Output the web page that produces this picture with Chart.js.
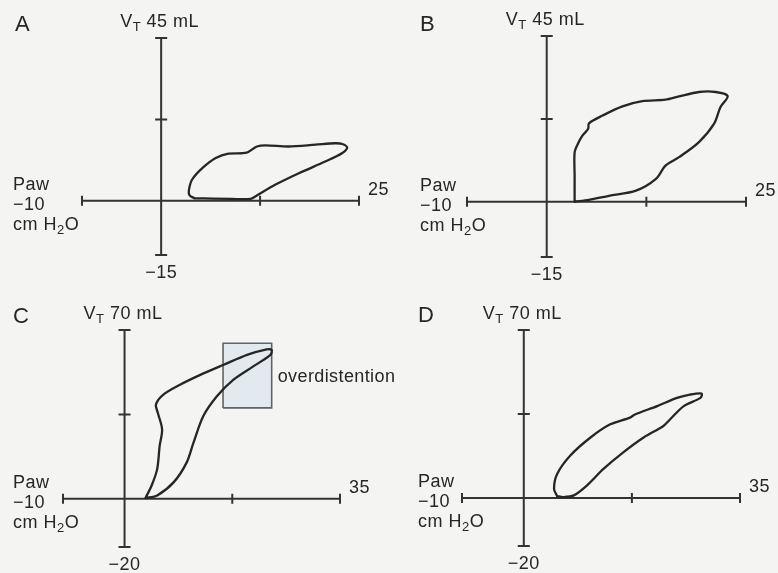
<!DOCTYPE html>
<html><head><meta charset="utf-8">
<script src="https://cdn.jsdelivr.net/npm/chart.js@4/dist/chart.umd.min.js"></script>
<style>
html,body{margin:0;padding:0;background:#f4f5f2;width:778px;height:573px;overflow:hidden}
canvas{position:absolute}
</style></head><body>
<canvas id="cA" width="389" height="290" style="left:0;top:0"></canvas>
<canvas id="cB" width="389" height="290" style="left:389px;top:0"></canvas>
<canvas id="cD" width="389" height="283" style="left:389px;top:290px"></canvas>
<canvas id="cC" width="410" height="283" style="left:0;top:290px"></canvas>
<script>
// ---- data (Paw in cm H2O, VT in mL) ----
const panelLetters = ['A', 'B', 'C', 'D'];
const xRanges = [[-10, 25], [-10, 25], [-10, 35], [-10, 35]];
const yRanges = [[-15, 45], [-15, 45], [-20, 70], [-20, 70]];
const xMinLabels = ['\u221210', '\u221210', '\u221210', '\u221210'];
const xMaxLabels = ['25', '25', '35', '35'];
const yMaxLabels = ['45 mL', '45 mL', '70 mL', '70 mL'];
const yMinLabels = ['\u221215', '\u221215', '\u221220', '\u221220'];

const pawA = [4.2, 3.6, 3.5, 3.9, 5.2, 6.9, 8.5, 10.8, 12.1, 13.2, 16.1, 19.5, 22.0, 22.9, 23.5, 22.9, 20.8, 17.4, 14.4, 11.9, 11.3, 8.9, 4.2];
const vtA  = [0.7, 1.5, 2.8, 5.8, 9.0, 11.8, 13.0, 13.3, 15.0, 15.3, 15.0, 15.5, 15.9, 15.7, 14.7, 13.2, 10.9, 7.6, 4.4, 1.2, 0.5, 0.5, 0.7];

const pawB = [3.5, 3.5, 3.5, 3.9, 4.5, 5.2, 5.3, 7.0, 9.5, 12.0, 14.9, 16.6, 19.1, 21.2, 22.7, 21.8, 21.0, 19.1, 16.6, 14.9, 13.7, 11.2, 7.8, 5.3, 3.5];
const vtB  = [0.0, 7.0, 13.4, 15.7, 18.0, 19.8, 21.3, 23.4, 25.9, 27.3, 27.7, 28.6, 29.8, 29.8, 28.7, 25.7, 21.2, 16.2, 12.1, 9.8, 6.2, 3.0, 1.6, 0.5, 0.0];

const pawC = [3.4, 4.4, 5.3, 5.7, 6.1, 5.4, 5.1, 6.3, 9.0, 12.3, 16.1, 19.9, 23.1, 23.9, 23.7, 20.9, 17.7, 15.0, 12.8, 11.2, 10.1, 8.0, 5.3, 3.4];
const vtC  = [0.3, 5.5, 12.3, 21.9, 28.8, 35.7, 39.1, 43.2, 47.3, 51.4, 55.6, 59.7, 62.0, 61.7, 59.7, 54.9, 49.4, 42.5, 34.3, 23.3, 15.1, 6.9, 1.4, 0.3];

const pawD = [5.4, 4.9, 5.4, 7.5, 10.8, 14.0, 17.2, 18.0, 21.6, 24.8, 26.9, 28.8, 28.6, 25.9, 23.7, 22.6, 19.4, 16.1, 12.9, 10.2, 8.1, 6.4, 5.4];
const vtD  = [0.8, 3.8, 10.0, 17.6, 25.2, 30.7, 33.5, 34.8, 38.3, 41.7, 43.1, 43.5, 41.7, 38.3, 32.8, 30.0, 25.2, 19.0, 12.1, 5.2, 1.1, 0.4, 0.8];

const overBoxPaw = [16.0, 23.9];
const overBoxVt = [37.7, 64.5];
const overBoxLabel = 'overdistention';

// ---- drawing ----
const FONT = '"Liberation Sans", Arial, Helvetica, sans-serif';
const INK = '#262626';

function pts(xs, ys) { return xs.map((v, i) => ({ x: v, y: ys[i] })); }

const pvAxes = {
  id: 'pvAxes',
  beforeDatasetsDraw(chart, args, o) {
    const { ctx, scales: { x, y } } = chart;
    const x0 = x.getPixelForValue(0), y0 = y.getPixelForValue(0);
    const xl = x.getPixelForValue(x.min), xr = x.getPixelForValue(x.max), xm = x.getPixelForValue(x.max / 2);
    const yt = y.getPixelForValue(y.max), yb = y.getPixelForValue(y.min), ym = y.getPixelForValue(y.max / 2);
    ctx.save();
    ctx.strokeStyle = '#333';
    ctx.lineWidth = 2;
    ctx.beginPath();
    ctx.moveTo(xl, y0); ctx.lineTo(xr, y0);
    ctx.moveTo(x0, yb); ctx.lineTo(x0, yt);
    [xl, xm, xr].forEach(px => { ctx.moveTo(px, y0 - 5); ctx.lineTo(px, y0 + 5); });
    [yt, ym, yb].forEach(py => { ctx.moveTo(x0 - 6, py); ctx.lineTo(x0 + 6, py); });
    ctx.stroke();
    ctx.restore();
  },
  afterDraw(chart, args, o) {
    const { ctx, scales: { x, y } } = chart;
    const x0 = x.getPixelForValue(0), y0 = y.getPixelForValue(0);
    const xr = x.getPixelForValue(x.max);
    const yt = y.getPixelForValue(y.max), yb = y.getPixelForValue(y.min);
    ctx.save();
    ctx.fillStyle = INK;
    ctx.textBaseline = 'alphabetic';
    ctx.letterSpacing = '0.5px';
    // panel letter
    ctx.font = '22px ' + FONT;
    ctx.textAlign = 'left';
    ctx.fillText(o.letter, o.letterX, o.letterY);
    // y label  V_T 45 mL
    ctx.font = '18px ' + FONT;
    let lx = x0 - 41, ly = yt - 11;
    ctx.fillText('V', lx, ly);
    lx += ctx.measureText('V').width;
    ctx.font = '13px ' + FONT;
    ctx.fillText('T', lx, ly + 4);
    lx += ctx.measureText('T').width;
    ctx.font = '18px ' + FONT;
    ctx.fillText(' ' + o.yMax, lx, ly);
    // x-axis block
    const bx = o.blockX;
    ctx.fillText('Paw', bx, y0 - 11);
    ctx.fillText(o.xMin, bx, y0 + 9);
    let cx = bx;
    ctx.fillText('cm H', cx, y0 + 29);
    cx += ctx.measureText('cm H').width;
    ctx.font = '13px ' + FONT;
    ctx.fillText('2', cx, y0 + 33);
    cx += ctx.measureText('2').width;
    ctx.font = '18px ' + FONT;
    ctx.fillText('O', cx, y0 + 29);
    // x max
    ctx.fillText(o.xMax, xr + 9, y0 - 6);
    // y min
    ctx.textAlign = 'center';
    ctx.fillText(o.yMin, x0, yb + 23);
    // annotation
    if (o.note) {
      ctx.textAlign = 'left';
      ctx.font = '18px ' + FONT;
      ctx.letterSpacing = '0.4px';
      const nx = x.getPixelForValue(overBoxPaw[1]) + 6;
      const ny = (y.getPixelForValue(overBoxVt[0]) + y.getPixelForValue(overBoxVt[1])) / 2 + 6;
      ctx.fillText(o.note, nx, ny);
    }
    ctx.restore();
  }
};

const panels = [
  { id: 'cA', paw: pawA, vt: vtA, pad: { left: 82, right: 30, top: 38, bottom: 35 }, letterX: 15, letterY: 31, blockX: 13 },
  { id: 'cB', paw: pawB, vt: vtB, pad: { left: 78, right: 32, top: 36, bottom: 33 }, letterX: 31, letterY: 31, blockX: 31 },
  { id: 'cC', paw: pawC, vt: vtC, pad: { left: 63, right: 70, top: 40, bottom: 26 }, letterX: 13, letterY: 33, blockX: 13, box: true },
  { id: 'cD', paw: pawD, vt: vtD, pad: { left: 73, right: 38, top: 40, bottom: 27 }, letterX: 29, letterY: 32, blockX: 29 }
];

panels.forEach((p, i) => {
  const datasets = [];
  if (p.box) {
    datasets.push({
      data: [
        { x: overBoxPaw[0], y: overBoxVt[0] }, { x: overBoxPaw[1], y: overBoxVt[0] },
        { x: overBoxPaw[1], y: overBoxVt[1] }, { x: overBoxPaw[0], y: overBoxVt[1] },
        { x: overBoxPaw[0], y: overBoxVt[0] }
      ],
      showLine: true, borderColor: '#5f6366', borderWidth: 1.6,
      backgroundColor: 'rgba(214,226,236,0.6)', fill: 'shape',
      pointRadius: 0, tension: 0, order: 2
    });
  }
  datasets.push({
    data: pts(p.paw, p.vt),
    showLine: true, borderColor: INK, borderWidth: 2.3,
    pointRadius: 0, tension: 0.3, fill: false, order: 1,
    borderJoinStyle: 'round', borderCapStyle: 'round'
  });
  new Chart(document.getElementById(p.id), {
    type: 'scatter',
    data: { datasets },
    options: {
      responsive: false, animation: false, devicePixelRatio: 1,
      layout: { padding: p.pad },
      scales: {
        x: { type: 'linear', display: false, min: xRanges[i][0], max: xRanges[i][1] },
        y: { type: 'linear', display: false, min: yRanges[i][0], max: yRanges[i][1] }
      },
      plugins: {
        legend: { display: false }, tooltip: { enabled: false },
        pvAxes: {
          letter: panelLetters[i], letterX: p.letterX, letterY: p.letterY, blockX: p.blockX,
          xMin: xMinLabels[i], xMax: xMaxLabels[i], yMax: yMaxLabels[i], yMin: yMinLabels[i],
          note: p.box ? overBoxLabel : null
        }
      }
    },
    plugins: [pvAxes]
  });
});
</script>
</body></html>
